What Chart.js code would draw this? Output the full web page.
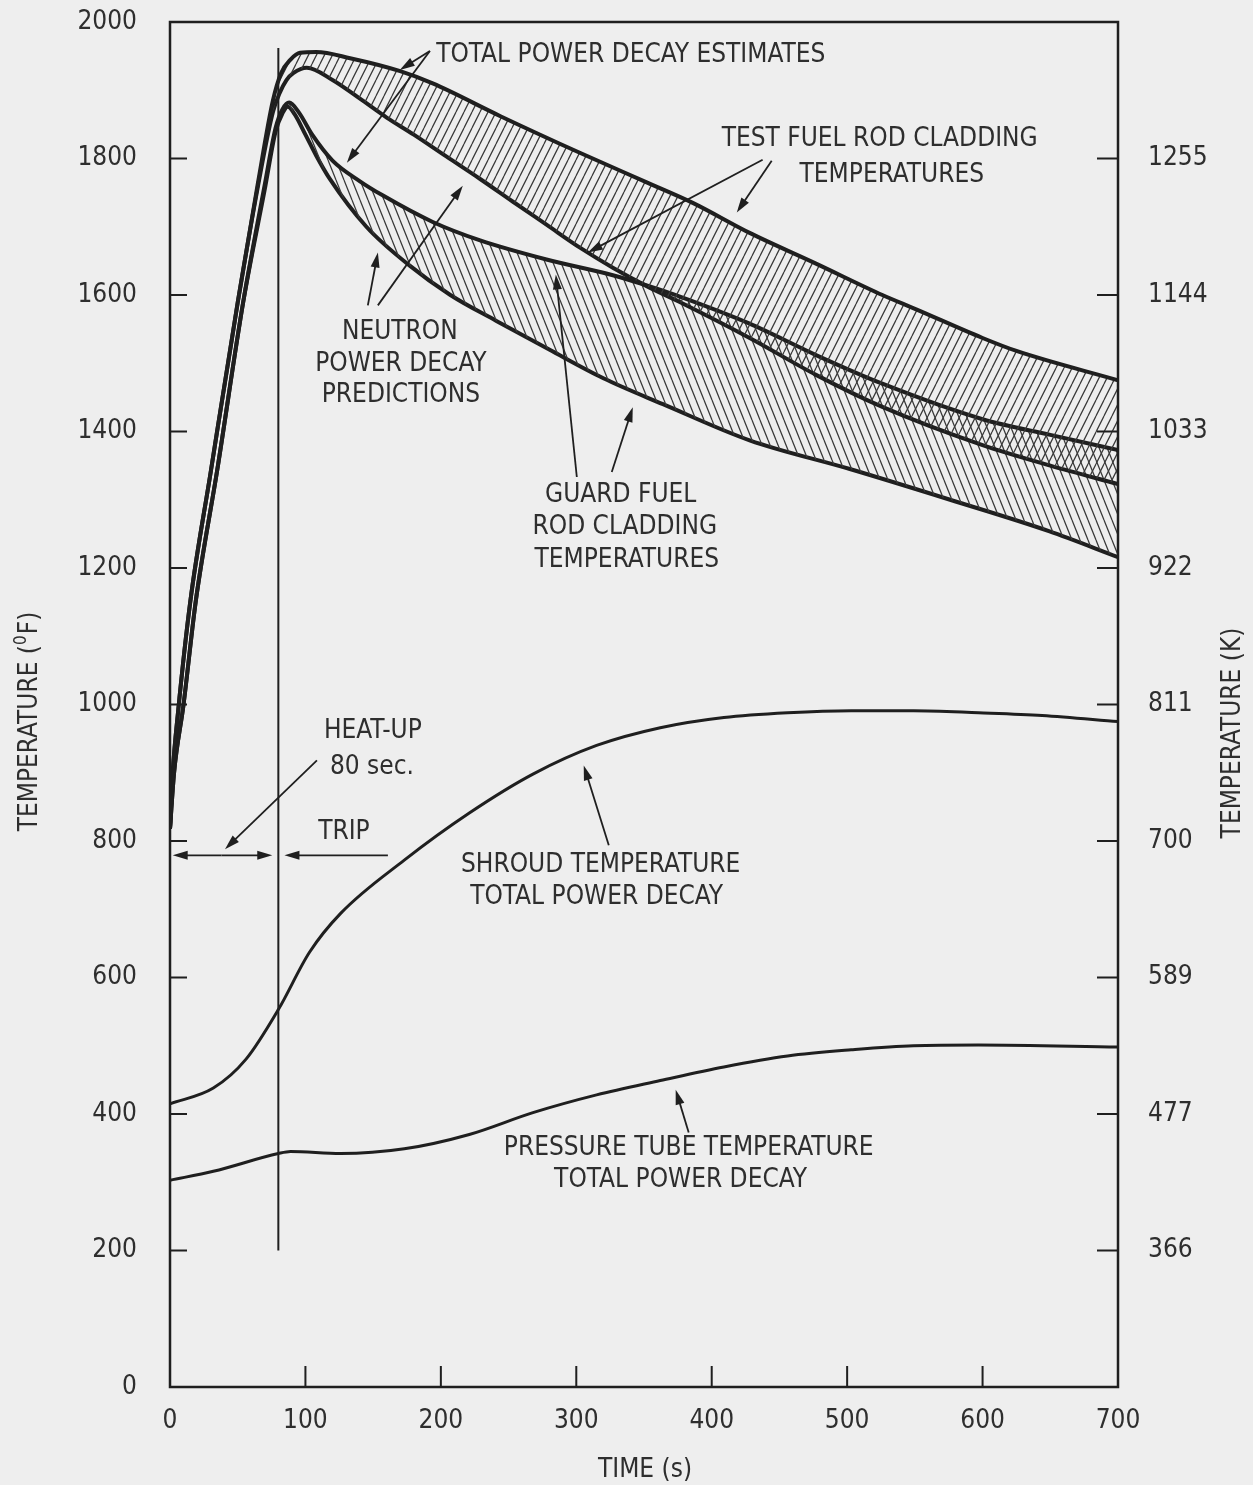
<!DOCTYPE html>
<html>
<head>
<meta charset="utf-8">
<script src="https://cdn.jsdelivr.net/npm/chart.js@4.4.1/dist/chart.umd.min.js"></script>
<style>
html,body{margin:0;padding:0;background:#eeeeee;}
canvas{display:block;}
</style>
</head>
<body>
<canvas id="c" width="1253" height="1485"></canvas>
<script>
// ---------------- DATA ----------------
// Test fuel rod cladding, total power decay estimate (upper bound of upper band)
const testTotalT = [0, 2, 6, 15, 30, 50, 65, 76, 82, 89, 96, 108, 133, 170, 194, 244, 303, 352, 386, 428, 477, 526, 551, 600, 625, 700];
const testTotalF = [818, 900, 990, 1151, 1340, 1589, 1765, 1885, 1925, 1945, 1955, 1956, 1947, 1928, 1910, 1862, 1808, 1765, 1735, 1691, 1646, 1600, 1579, 1537, 1518, 1475];
// Test fuel rod cladding, neutron power decay prediction
const testNeutronT = [0, 2, 6, 15, 30, 50, 65, 76, 81, 86, 91, 101, 120, 140, 160, 180, 204, 229, 253, 278, 303, 327, 352, 376, 428, 477, 526, 600, 650, 700];
const testNeutronF = [818, 900, 990, 1151, 1340, 1589, 1760, 1868, 1896, 1915, 1925, 1933, 1915, 1888, 1860, 1835, 1803, 1770, 1737, 1703, 1669, 1640, 1613, 1590, 1537, 1483, 1436, 1380, 1350, 1323];
// Guard fuel rod cladding, total power decay estimate
const guardTotalT = [0, 3, 10, 19, 35, 54, 70, 78, 83, 88, 95, 105, 120, 140, 157, 194, 229, 278, 327, 352, 376, 428, 477, 526, 600, 650, 700];
const guardTotalF = [818, 900, 1000, 1151, 1345, 1589, 1762, 1845, 1872, 1882, 1868, 1835, 1797, 1767, 1746, 1707, 1680, 1652, 1629, 1614, 1598, 1558, 1512, 1470, 1418, 1395, 1373];
// Guard fuel rod cladding, neutron power decay prediction
const guardNeutronT = [0, 3, 10, 19, 35, 54, 70, 78, 83, 87, 92, 100, 108, 118, 145, 177, 207, 241, 280, 320, 364, 428, 502, 576, 649, 700];
const guardNeutronF = [818, 900, 1000, 1151, 1345, 1589, 1755, 1840, 1866, 1876, 1865, 1835, 1804, 1770, 1700, 1643, 1600, 1562, 1520, 1478, 1440, 1387, 1345, 1300, 1254, 1216];
// Shroud temperature, total power decay
const shroudT = [0, 32, 56, 80, 103, 126, 173, 221, 268, 315, 362, 409, 456, 503, 549, 597, 644, 700];
const shroudF = [415, 438, 480, 553, 637, 694, 772, 841, 898, 940, 966, 981, 988, 991, 991, 988, 984, 975];
// Pressure tube temperature, total power decay
const pressureT = [0, 32, 80, 89, 126, 173, 221, 268, 315, 362, 409, 456, 503, 549, 597, 700];
const pressureF = [303, 316, 342, 345, 342, 349, 370, 402, 428, 449, 469, 485, 494, 500, 501, 498];
// Trip marker (80 s)
const tripT = [80, 80];
const tripF = [200, 1962];

// Tick labels
const fahrenheitTicks = [0, 200, 400, 600, 800, 1000, 1200, 1400, 1600, 1800, 2000];
const timeTicks = [0, 100, 200, 300, 400, 500, 600, 700];
const kelvinLabels = ['366', '477', '589', '700', '811', '922', '1033', '1144', '1255']; // at 200..1800 F

// Annotations (data coordinates: time s, temperature F)
const noteTexts = [
  ['TOTAL POWER DECAY ESTIMATES', 340.2, 1951.8],
  ['TEST FUEL ROD CLADDING', 524, 1827.5],
  ['TEMPERATURES', 533, 1776],
  ['NEUTRON', 169.7, 1545],
  ['POWER DECAY', 170.5, 1498.5],
  ['PREDICTIONS', 170.5, 1453],
  ['GUARD FUEL', 332.8, 1307],
  ['ROD CLADDING', 335.8, 1260],
  ['TEMPERATURES', 337.3, 1212],
  ['HEAT-UP', 149.8, 960.5],
  ['80 sec.', 149.1, 908],
  ['TRIP', 128.4, 813],
  ['SHROUD TEMPERATURE', 318, 764.6],
  ['TOTAL POWER DECAY', 315, 717.8],
  ['PRESSURE TUBE TEMPERATURE', 383, 349.4],
  ['TOTAL POWER DECAY', 377, 302.6]
];
const noteArrows = [
  [191.9, 1957.6, 169.7, 1929.8],
  [191.9, 1957.6, 130.6, 1793.9],
  [146.1, 1584.8, 153.5, 1662.3],
  [153.5, 1584.8, 216.2, 1760.2],
  [437.6, 1798.2, 308.5, 1662.3],
  [444.3, 1796.8, 418.5, 1720.8],
  [300.4, 1333.3, 284.9, 1630.1],
  [326.2, 1340.6, 341.7, 1435.7],
  [108.5, 918.1, 40.6, 788.0],
  [38, 779, 2, 779],
  [38, 779, 75.5, 779],
  [160.9, 779, 84.5, 779],
  [324, 793.9, 305.5, 910.8],
  [383, 372.8, 373.4, 435.7]
];

// ---------------- STYLE ----------------
const INK = '#1f1f1f';
const TEXT = '#2e2e2e';
const FONT = "'Liberation Sans Narrow', 'DejaVu Sans Condensed', 'Arial Narrow', sans-serif";
const FS = 26;
const canvas = document.getElementById('c');
const mainCtx = canvas.getContext('2d');

function hatch(dir, w, h) {
  const c = document.createElement('canvas');
  c.width = w; c.height = h;
  const g = c.getContext('2d');
  g.strokeStyle = '#3a3a3a';
  g.lineWidth = 1.25;
  g.beginPath();
  for (let k = -1; k <= 1; k++) {
    if (dir > 0) { g.moveTo(k * w, h); g.lineTo(k * w + w, 0); }
    else { g.moveTo(k * w, 0); g.lineTo(k * w + w, h); }
  }
  g.stroke();
  return mainCtx.createPattern(c, 'repeat');
}
const slashPattern = hatch(1, 8, 16);
const backPattern = hatch(-1, 8, 20);

const pts = (ts, fs) => ts.map((t, i) => ({ x: t, y: fs[i] }));

function lineDs(ts, fs, width, extra) {
  return Object.assign({
    data: pts(ts, fs),
    borderColor: INK,
    borderWidth: width,
    pointRadius: 0,
    fill: false,
    cubicInterpolationMode: 'monotone',
    yAxisID: 'y'
  }, extra || {});
}

const decor = {
  id: 'decor',
  afterDatasetsDraw(chart) {
    const { ctx, chartArea: a, scales } = chart;
    const sx = scales.x, sy = scales.y;
    ctx.save();
    ctx.strokeStyle = INK;
    ctx.lineCap = 'butt';
    // frame
    ctx.lineWidth = 2.5;
    ctx.strokeRect(a.left, a.top, a.right - a.left, a.bottom - a.top);
    // inward tick marks
    ctx.lineWidth = 2;
    ctx.beginPath();
    fahrenheitTicks.forEach(v => {
      if (v <= 0 || v >= 2000) return;
      const py = sy.getPixelForValue(v);
      ctx.moveTo(a.left, py); ctx.lineTo(a.left + 17, py);
      ctx.moveTo(a.right - 21, py); ctx.lineTo(a.right, py);
    });
    timeTicks.forEach(v => {
      if (v <= 0 || v >= 700) return;
      const px = sx.getPixelForValue(v);
      ctx.moveTo(px, a.bottom); ctx.lineTo(px, a.bottom - 21);
    });
    ctx.stroke();
    // arrows
    ctx.fillStyle = INK;
    ctx.lineWidth = 1.8;
    noteArrows.forEach(([t0, f0, t1, f1]) => {
      const x0 = sx.getPixelForValue(t0), y0 = sy.getPixelForValue(f0);
      const x1 = sx.getPixelForValue(t1), y1 = sy.getPixelForValue(f1);
      const dx = x1 - x0, dy = y1 - y0, L = Math.hypot(dx, dy);
      const ux = dx / L, uy = dy / L;
      const hl = 15, hw = 4.5;
      ctx.beginPath();
      ctx.moveTo(x0, y0);
      ctx.lineTo(x1 - ux * hl * 0.8, y1 - uy * hl * 0.8);
      ctx.stroke();
      ctx.beginPath();
      ctx.moveTo(x1, y1);
      ctx.lineTo(x1 - ux * hl - uy * hw, y1 - uy * hl + ux * hw);
      ctx.lineTo(x1 - ux * hl + uy * hw, y1 - uy * hl - ux * hw);
      ctx.closePath();
      ctx.fill();
    });
    // annotation texts
    ctx.fillStyle = TEXT;
    ctx.font = FS + 'px ' + FONT;
    ctx.textAlign = 'center';
    ctx.textBaseline = 'middle';
    noteTexts.forEach(([s, t, f]) => {
      ctx.fillText(s, sx.getPixelForValue(t), sy.getPixelForValue(f));
    });
    // axis titles
    ctx.save();
    ctx.translate(30, 722);
    ctx.rotate(-Math.PI / 2);
    ctx.textAlign = 'left';
    const p1 = 'TEMPERATURE (', p3 = 'F)';
    ctx.font = FS + 'px ' + FONT;
    const w1 = ctx.measureText(p1).width, w3 = ctx.measureText(p3).width;
    ctx.font = '17px ' + FONT;
    const w2 = ctx.measureText('0').width;
    const start = -(w1 + w2 + w3) / 2;
    ctx.font = FS + 'px ' + FONT;
    ctx.fillText(p1, start, 0);
    ctx.font = '17px ' + FONT;
    ctx.fillText('0', start + w1, -8);
    ctx.font = FS + 'px ' + FONT;
    ctx.fillText(p3, start + w1 + w2 + 1, 0);
    ctx.restore();
    ctx.save();
    ctx.translate(1233, 733);
    ctx.rotate(-Math.PI / 2);
    ctx.fillText('TEMPERATURE (K)', 0, 0);
    ctx.restore();
    ctx.fillText('TIME (s)', 645, 1470);
    ctx.restore();
  }
};

const tickFont = { family: FONT, size: FS };
const noPad = s => { s.paddingTop = 0; s.paddingBottom = 0; s.paddingLeft = 0; s.paddingRight = 0; };

new Chart(canvas, {
  type: 'line',
  data: {
    datasets: [
      lineDs(testTotalT, testTotalF, 4, { fill: '+1', backgroundColor: slashPattern }),
      lineDs(testNeutronT, testNeutronF, 4),
      lineDs(guardTotalT, guardTotalF, 4, { fill: '+1', backgroundColor: backPattern }),
      lineDs(guardNeutronT, guardNeutronF, 4),
      lineDs(shroudT, shroudF, 3),
      lineDs(pressureT, pressureF, 3),
      lineDs(tripT, tripF, 2, { cubicInterpolationMode: 'default', tension: 0 })
    ]
  },
  options: {
    responsive: false,
    animation: false,
    events: [],
    layout: { padding: { top: 22, left: 0, right: 0, bottom: 0 } },
    plugins: { legend: { display: false }, tooltip: { enabled: false }, title: { display: false } },
    scales: {
      x: {
        type: 'linear', position: 'bottom', min: 0, max: 700,
        afterBuildTicks: s => { s.ticks = timeTicks.map(v => ({ value: v })); },
        ticks: { font: tickFont, color: TEXT, padding: 19, maxRotation: 0, autoSkip: false, callback: v => String(v) },
        grid: { display: false, drawTicks: false },
        border: { display: false },
        afterFit: s => { s.height = 98; noPad(s); }
      },
      y: {
        type: 'linear', position: 'left', min: 0, max: 2000,
        afterBuildTicks: s => { s.ticks = fahrenheitTicks.map(v => ({ value: v })); },
        ticks: { font: tickFont, color: TEXT, padding: 33, autoSkip: false, callback: v => String(v) },
        grid: { display: false, drawTicks: false },
        border: { display: false },
        afterFit: s => { s.width = 170; noPad(s); }
      },
      yK: {
        type: 'linear', position: 'right', min: 0, max: 2000,
        afterBuildTicks: s => { s.ticks = fahrenheitTicks.map(v => ({ value: v })); },
        ticks: {
          font: tickFont, color: TEXT, padding: 30, autoSkip: false,
          callback: v => { const i = v / 200 - 1; return (i >= 0 && i < kelvinLabels.length) ? kelvinLabels[i] : ''; }
        },
        grid: { display: false, drawTicks: false },
        border: { display: false },
        afterFit: s => { s.width = 135; noPad(s); }
      }
    }
  },
  plugins: [decor]
});
</script>
</body>
</html>
